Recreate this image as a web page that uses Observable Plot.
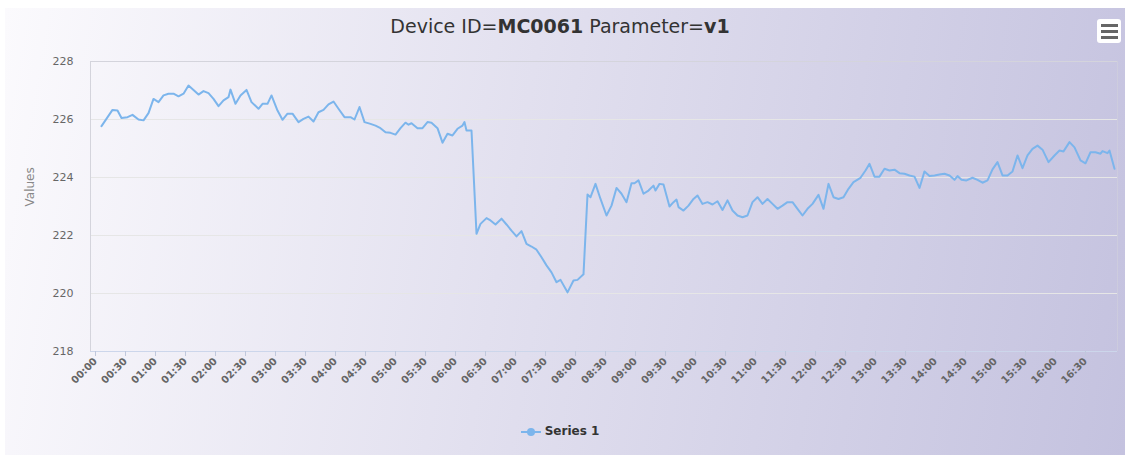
<!DOCTYPE html>
<html>
<head>
<meta charset="utf-8">
<script src="https://cdn.jsdelivr.net/npm/d3@7"></script>
<script src="https://cdn.jsdelivr.net/npm/@observablehq/plot@0.6"></script>
<style>
  html, body { margin: 0; padding: 0; background: #ffffff; width: 1125px; height: 455px; overflow: hidden; }
  #chart { position: absolute; left: 5px; top: 8px; width: 1120px; height: 447px;
    background: linear-gradient(100deg, #fbfafd 0%, #e2e0ef 45%, #c4c2df 100%); }
  #title { position: absolute; left: 0; width: 1110px; top: 7px; text-align: center;
    font-family: "DejaVu Sans", sans-serif; font-size: 19px; color: #333; line-height: 22px; }
  #plot { position: absolute; left: 0; top: 32px; }
  #legend { position: absolute; left: 0; width: 1110px; top: 416px; text-align: center;
    font-family: "DejaVu Sans", sans-serif; font-size: 12px; font-weight: bold; color: #333; }
  #menu { position: absolute; left: 1092px; top: 11px; width: 24px; height: 24px; background: #fff; border-radius: 3px; }
  #menu span { position: absolute; left: 4px; width: 17px; height: 3px; background: #666; }
</style>
</head>
<body>
<div id="chart">
  <div id="title"></div>
  <div id="plot"></div>
  <div id="legend"></div>
  <div id="menu"><span style="top:5px"></span><span style="top:11px"></span><span style="top:17px"></span></div>
</div>
<script>
const deviceId = "MC0061";
const parameter = "v1";
const seriesName = "Series 1";
const yTicks = [218, 220, 222, 224, 226, 228];
const xTickLabels = ["00:00","00:30","01:00","01:30","02:00","02:30","03:00","03:30","04:00","04:30","05:00","05:30","06:00","06:30","07:00","07:30","08:00","08:30","09:00","09:30","10:00","10:30","11:00","11:30","12:00","12:30","13:00","13:30","14:00","14:30","15:00","15:30","16:00","16:30"];
const times = ["00:06","00:17","00:22","00:26","00:32","00:37","00:43","00:48","00:53","00:58","01:03","01:08","01:13","01:18","01:23","01:28","01:33","01:38","01:43","01:48","01:53","01:58","02:03","02:08","02:13","02:15","02:20","02:25","02:31","02:36","02:43","02:47","02:52","02:56","03:02","03:07","03:12","03:17","03:23","03:28","03:33","03:38","03:43","03:48","03:53","03:58","04:03","04:09","04:15","04:19","04:24","04:29","04:35","04:40","04:45","04:50","04:55","05:00","05:05","05:10","05:13","05:16","05:22","05:27","05:32","05:36","05:42","05:47","05:52","05:57","06:02","06:07","06:09","06:11","06:16","06:21","06:25","06:31","06:35","06:40","06:46","06:51","06:56","07:01","07:06","07:11","07:16","07:21","07:26","07:31","07:36","07:41","07:45","07:52","07:58","08:02","08:08","08:12","08:15","08:20","08:25","08:31","08:36","08:41","08:46","08:51","08:56","08:59","09:03","09:08","09:13","09:18","09:20","09:24","09:28","09:34","09:38","09:41","09:43","09:48","09:53","09:58","10:02","10:07","10:12","10:17","10:22","10:27","10:32","10:37","10:42","10:47","10:52","10:57","11:02","11:07","11:12","11:17","11:22","11:27","11:32","11:37","11:42","11:47","11:52","11:57","12:03","12:08","12:13","12:18","12:23","12:28","12:33","12:38","12:45","12:50","12:54","12:59","13:04","13:09","13:14","13:19","13:24","13:29","13:34","13:39","13:44","13:49","13:54","13:59","14:04","14:09","14:14","14:19","14:22","14:26","14:31","14:37","14:42","14:47","14:52","14:57","15:02","15:07","15:12","15:17","15:22","15:27","15:32","15:37","15:42","15:47","15:53","15:59","16:04","16:08","16:14","16:19","16:25","16:30","16:35","16:40","16:45","16:47","16:52","16:54","16:59"];
const values = [225.77,226.33,226.31,226.05,226.08,226.16,226.0,225.97,226.22,226.71,226.6,226.83,226.89,226.89,226.80,226.89,227.17,227.02,226.86,226.98,226.91,226.71,226.46,226.66,226.77,227.03,226.54,226.83,227.02,226.6,226.37,226.54,226.54,226.83,226.31,225.99,226.2,226.2,225.91,226.02,226.1,225.93,226.25,226.33,226.52,226.62,226.37,226.08,226.08,226.0,226.43,225.91,225.85,225.79,225.70,225.56,225.54,225.48,225.70,225.89,225.82,225.87,225.70,225.70,225.91,225.89,225.70,225.20,225.51,225.45,225.68,225.79,225.91,225.62,225.62,222.06,222.40,222.60,222.52,222.38,222.58,222.38,222.17,221.97,222.15,221.71,221.62,221.51,221.25,220.97,220.73,220.39,220.47,220.04,220.45,220.47,220.66,223.41,223.32,223.78,223.26,222.69,223.03,223.64,223.44,223.15,223.80,223.80,223.90,223.44,223.55,223.72,223.55,223.78,223.76,223.0,223.15,223.24,222.98,222.86,223.03,223.26,223.38,223.09,223.15,223.07,223.18,222.88,223.21,222.86,222.69,222.63,222.69,223.15,223.32,223.09,223.26,223.09,222.92,223.03,223.15,223.15,222.92,222.69,222.92,223.09,223.40,222.92,223.78,223.32,223.26,223.32,223.61,223.84,223.99,224.24,224.47,224.03,224.03,224.30,224.24,224.27,224.15,224.13,224.07,224.03,223.64,224.21,224.05,224.07,224.10,224.13,224.07,223.92,224.05,223.92,223.90,223.99,223.92,223.82,223.90,224.28,224.53,224.07,224.07,224.21,224.76,224.32,224.76,224.99,225.10,224.96,224.53,224.76,224.93,224.90,225.22,225.04,224.59,224.49,224.87,224.87,224.82,224.91,224.84,224.93,224.30];

const toMin = s => { const [h, m] = s.split(":").map(Number); return h * 60 + m; };
const data = times.map((t, i) => ({t: toMin(t), v: values[i]}));
const xTicks = xTickLabels.map(toMin);
const labelOf = new Map(xTicks.map((m, i) => [m, xTickLabels[i]]));

document.getElementById("title").innerHTML =
  `Device ID=<b>${deviceId}</b> Parameter=<b>${parameter}</b>`;
document.getElementById("legend").innerHTML =
  `<svg width="20" height="10" style="vertical-align:middle;margin-right:4px"><line x1="0" y1="5" x2="20" y2="5" stroke="#7cb5ec" stroke-width="2"/><circle cx="10" cy="5" r="4" fill="#7cb5ec"/></svg>${seriesName}`;

const chart = Plot.plot({
  width: 1120,
  height: 370,
  marginLeft: 85,
  marginRight: 8,
  marginTop: 21,
  marginBottom: 59,
  style: {background: "transparent", fontFamily: "DejaVu Sans, sans-serif", overflow: "visible"},
  x: {type: "linear", domain: [-5, 1022]},
  y: {domain: [218, 228]},
  marks: [
    Plot.gridY(yTicks.slice(1), {stroke: "#e6e6e6", strokeOpacity: 1}),
    Plot.ruleX([-5], {stroke: "#d4d4dc"}),
    Plot.ruleY([228], {stroke: "#d4d4dc"}),
    Plot.ruleX([1022], {stroke: "#d4d4dc", strokeOpacity: 0.5}),
    Plot.ruleY([218], {stroke: "#ccd6eb"}),
    Plot.axisY({ticks: yTicks, tickSize: 0, tickPadding: 17, fontSize: 11, fill: "#666", label: null}),
    Plot.axisX({ticks: xTicks, tickFormat: d => labelOf.get(d), tickSize: 5, tickPadding: 3,
      tickRotate: -45, stroke: "#c0c8dc", fill: "#666", fontSize: 10, fontWeight: "bold", label: null}),
    Plot.text(["Values"], {frameAnchor: "left", dx: -60, rotate: -90, fontSize: 12, fill: "#888"}),
    Plot.line(data, {x: "t", y: "v", stroke: "#7cb5ec", strokeWidth: 2, strokeLinejoin: "round"})
  ]
});
document.getElementById("plot").appendChild(chart);
</script>
</body>
</html>
